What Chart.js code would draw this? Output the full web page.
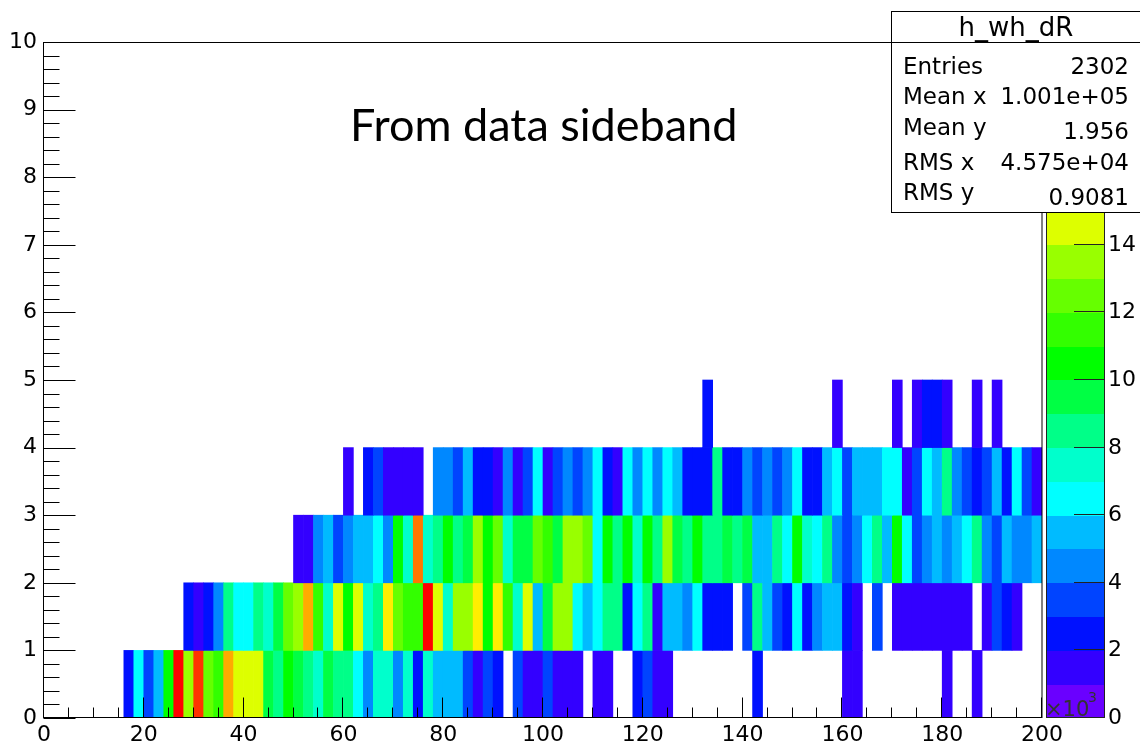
<!DOCTYPE html>
<html>
<head>
<meta charset="utf-8">
<script src="https://cdn.jsdelivr.net/npm/chart.js@4.4.1/dist/chart.umd.min.js"></script>
<style>
  html, body { margin: 0; padding: 0; background: #fff; }
  canvas { display: block; }
</style>
</head>
<body>
<canvas id="graphCanvas" width="1140" height="748"></canvas>
<script>
// h_wh_dR (from data sideband): x in 10^3 units, 100 bins of 2, y rows of 1
// cell contents in units of 10^3 (colz scale)
var xMin = 0, xMax = 200, nBinsX = 100;
var yEdges = [0, 1, 2, 3, 4, 5];
var zMax = 20;
var xTickStep = 20, yTickStep = 1;
var zTicks = [0, 2, 4, 6, 8, 10, 12, 14, 16, 18, 20];

var row0 = [0,0,0,0,0,0,0,0, 2.5,6.5,3.5,5.5,10.5,19.5,13.5,18.5,12.5,11.5,
  16.5,14.5,14.5,14.5,9.5,8.5,10.5,9.5,8.5,7.5,9.5,8.5,8.5,6.5,4.5,7.5,7.5,4.5,7.5,2.5,7.5,
  5.5,5.5,5.5,3.5,1.5,3.5,2.5,0,3.5,1.5,1.5,3.5,1.5,1.5,1.5,0,1.5,1.5,0,0,2.5,3.5,1.5,1.5,
  0,0,0,0,0,0,0,0, 2.5, 0,0,0,0,0,0,0,0, 1.5,1.5, 0,0,0,0,0,0,0,0, 1.5,0,0,1.5, 0,0,0,0,0,0];

var row1 = [0,0,0,0,0,0,0,0,0,0,0,0,0,0, 2.5,1.5,2.5,4.5,8.5,6.5,6.5,8.5,7.5,9.5,
  12.5,13.5,16.5,11.5,7.5,14.5,10.5,14.5,7.5,8.5,15.5,12.5,11.5,11.5,19.5,14.5,7.5,13.5,
  13.5,15.5,10.5,15.5,11.5,7.5,14.5,5.5,9.5,13.5,13.5,6.5,5.5,6.5,8.5,8.5,2.5,6.5,8.5,1.5,
  5.5,5.5,4.5,6.5,2.5,2.5,2.5,0,3.5,8.5,5.5,3.5,2.5,6.5,2.5,4.5,5.5,5.5,2.5,1.5,0,3.5,0,
  1.5,1.5,1.5,1.5,1.5,1.5,1.5,1.5,0,1.5,3.5,2.5,1.5,0,0];

var row2 = [0,0,0,0,0,0,0,0,0,0,0,0,0,0,0,0,0,0,0,0,0,0,0,0,0, 1.5,1.5,4.5,5.5,3.5,
  4.5,5.5,5.5,6.5,4.5,10.5,7.5,17.5,7.5,8.5,10.5,8.5,9.5,13.5,10.5,12.5,7.5,9.5,9.5,12.5,
  11.5,9.5,13.5,13.5,12.5,6.5,10.5,8.5,10.5,7.5,10.5,8.5,13.5,9.5,8.5,10.5,8.5,8.5,9.5,8.5,
  9.5,5.5,5.5,8.5,6.5,10.5,7.5,6.5,8.5,4.5,3.5,4.5,6.5,8.5,5.5,10.5,6.5,3.5,4.5,5.5,4.5,
  5.5,6.5,8.5,4.5,3.5,5.5,4.5,4.5,5.5];

var row3 = [0,0,0,0,0,0,0,0,0,0,0,0,0,0,0,0,0,0,0,0,0,0,0,0,0,0,0,0,0,0, 1.5,0,2.5,3.5,
  1.5,1.5,1.5,1.5,0,4.5,4.5,3.5,5.5,2.5,2.5,1.5,4.5,1.5,3.5,6.5,1.5,3.5,4.5,3.5,4.5,6.5,
  2.5,1.5,6.5,4.5,6.5,4.5,6.5,5.5,2.5,2.5,2.5,8.5,2.5,2.5,4.5,3.5,4.5,3.5,4.5,6.5,2.5,2.5,
  5.5,6.5,3.5,5.5,5.5,5.5,6.5,6.5,1.5,3.5,6.5,5.5,8.5,4.5,3.5,2.5,3.5,5.5,2.5,6.5,3.5,1.5];

var row4 = [0,0,0,0,0,0,0,0,0,0,0,0,0,0,0,0,0,0,0,0,0,0,0,0,0,0,0,0,0,0,0,0,0,0,0,0,0,0,
  0,0,0,0,0,0,0,0,0,0,0,0,0,0,0,0,0,0,0,0,0,0,0,0,0,0,0,0, 2.5,0,0,0,0,0,0,0,0,0,0,0,0,
  1.5,0,0,0,0,0,1.5,0,1.5,2.5,2.5,1.5,0,0,1.5,0,1.5,0,0,0,0];

var rows = [row0, row1, row2, row3, row4];

var statLabels = ['Entries', 'Mean x', 'Mean y', 'RMS x', 'RMS y'];
var statValues = ['2302', '1.001e+05', '1.956', '4.575e+04', '0.9081'];

// old ROOT rainbow palette, 20 contour levels
var palette = ['#6a00ff','#3300ff','#0011ff','#0044ff','#0088ff','#00bbff','#00ffff',
  '#00ffcc','#00ff88','#00ff44','#00ff00','#33ff00','#66ff00','#99ff00','#ddff00',
  '#ffee00','#ffaa00','#ff7700','#ff3300','#ff0000'];

function colourFor(v) {
    var k = Math.floor(v / zMax * palette.length);
    if (k > palette.length - 1) k = palette.length - 1;
    return palette[k];
}

var binW = (xMax - xMin) / nBinsX;
var cells = [];
for (var r = 0; r < rows.length; r++) {
    for (var i = 0; i < rows[r].length; i++) {
        if (rows[r][i] > 0) {
            cells.push({ x: xMin + (i + 0.5) * binW, y: [yEdges[r], yEdges[r + 1]], v: rows[r][i] });
        }
    }
}

var tickFont = { family: 'DejaVu Sans', size: 22 };

var rootFrame = {
    id: 'rootFrame',
    afterDatasetsDraw: function (chart) {
        var ctx = chart.ctx, a = chart.chartArea;
        var xs = chart.scales.x, ys = chart.scales.y, zs = chart.scales.z;
        ctx.save();
        ctx.strokeStyle = '#000';
        ctx.lineWidth = 1;

        // frame
        ctx.strokeRect(a.left - 0.5, a.top + 0.5, a.right - a.left + 0.5, a.bottom - a.top - 1);

        // inward ticks, x
        ctx.beginPath();
        for (var v = xMin; v <= xMax; v += 5) {
            var px = Math.round(xs.getPixelForValue(v)) - 0.5;
            var len = (v % xTickStep === 0) ? 20 : 10;
            ctx.moveTo(px, a.bottom - 0.5);
            ctx.lineTo(px, a.bottom - 0.5 - len);
        }
        // inward ticks, y
        for (var j = 0; j <= 50; j++) {
            var yv = j / 5;
            var py = Math.round(ys.getPixelForValue(yv)) + 0.5;
            var l = (j % 5 === 0) ? 32 : 16;
            ctx.moveTo(a.left - 0.5, py);
            ctx.lineTo(a.left - 0.5 + l, py);
        }
        ctx.stroke();

        // palette axis
        var cx0 = 1046, cx1 = 1104;
        for (var k = 0; k < palette.length; k++) {
            var top = zs.getPixelForValue((k + 1) * zMax / palette.length);
            var bot = zs.getPixelForValue(k * zMax / palette.length);
            ctx.fillStyle = palette[k];
            ctx.fillRect(cx0, Math.floor(top), cx1 - cx0, Math.ceil(bot) - Math.floor(top));
        }
        ctx.strokeStyle = '#222';
        ctx.strokeRect(cx0 + 0.5, a.top + 0.5, cx1 - cx0, a.bottom - a.top - 1);
        ctx.beginPath();
        ctx.fillStyle = '#000';
        ctx.font = '22px "DejaVu Sans"';
        ctx.textAlign = 'left';
        ctx.textBaseline = 'middle';
        zTicks.forEach(function (t) {
            var p = Math.round(zs.getPixelForValue(t)) - 0.5;
            ctx.moveTo(cx1, p);
            ctx.lineTo(cx1 - 30, p);
            ctx.fillText(String(t), 1108, p + 1);
        });
        ctx.stroke();
        ctx.fillStyle = '#333';
        ctx.textBaseline = 'alphabetic';
        ctx.font = '21px "DejaVu Sans"';
        ctx.fillText('\u00d710', 1045, 716);
        ctx.font = '14px "DejaVu Sans"';
        ctx.fillText('3', 1088, 702);

        // stats box
        ctx.fillStyle = '#fff';
        ctx.fillRect(891, 11, 260, 202);
        ctx.strokeStyle = '#000';
        ctx.strokeRect(891.5, 11.5, 260, 201);
        ctx.beginPath();
        ctx.moveTo(891, 42.5);
        ctx.lineTo(1140, 42.5);
        ctx.stroke();
        ctx.fillStyle = '#000';
        ctx.textAlign = 'center';
        ctx.font = '26px "DejaVu Sans"';
        ctx.fillText('h_wh_dR', 1016, 36);
        ctx.font = '23px "DejaVu Sans"';
        var labY = [74, 104, 135, 170, 200];
        var valY = [74, 104, 139, 170, 205];
        for (var s = 0; s < statLabels.length; s++) {
            ctx.textAlign = 'left';
            ctx.fillText(statLabels[s], 903, labY[s]);
            ctx.textAlign = 'right';
            ctx.fillText(statValues[s], 1129, valY[s]);
        }

        // annotation
        ctx.textAlign = 'left';
        ctx.font = '45px Lato';
        ctx.fillText('From data sideband', 350, 141);
        ctx.restore();
    }
};

var graphTarget = document.getElementById('graphCanvas');
var chart = new Chart(graphTarget, {
    type: 'bar',
    data: {
        datasets: [{
            label: 'h_wh_dR',
            data: cells,
            backgroundColor: function (c) { return c.raw ? colourFor(c.raw.v) : '#fff'; },
            borderWidth: 0,
            barPercentage: 1,
            categoryPercentage: 1
        }]
    },
    options: {
        responsive: false,
        animation: false,
        events: [],
        layout: { padding: { top: 42, right: 98, left: 0, bottom: 0 } },
        plugins: { legend: { display: false }, tooltip: { enabled: false }, title: { display: false } },
        scales: {
            x: {
                type: 'linear', min: xMin, max: xMax, offset: false,
                grid: { display: false, drawTicks: false }, border: { display: false },
                ticks: { stepSize: xTickStep, autoSkip: false, maxRotation: 0, color: '#000', font: tickFont, padding: 4 },
                afterFit: function (s) { s.height = 30; }
            },
            y: {
                type: 'linear', min: 0, max: 10,
                grid: { display: false, drawTicks: false }, border: { display: false },
                ticks: { stepSize: yTickStep, autoSkip: false, color: '#000', font: tickFont, padding: 7 },
                afterFit: function (s) { s.width = 44; }
            },
            z: {
                type: 'linear', axis: 'y', display: false, min: 0, max: zMax
            }
        }
    },
    plugins: [rootFrame]
});
</script>
</body>
</html>
